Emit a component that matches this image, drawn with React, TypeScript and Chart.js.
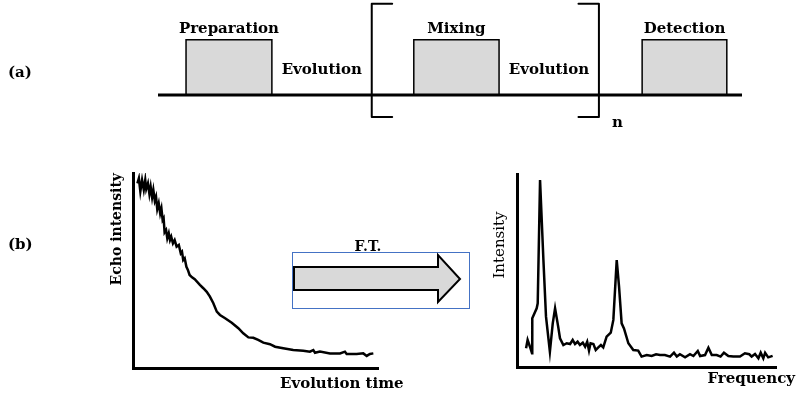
import React, { useEffect, useRef } from 'react';
import { Chart, registerables } from 'chart.js';
Chart.register(...registerables);

const FONT = '"DejaVu Serif", serif';

// ---- (a) pulse-sequence diagram ----
const stageNames = ['Preparation', 'Mixing', 'Detection'];
const stageStart = [4.8, 43.8, 82.9];
const stageEnd = [19.5, 58.4, 97.4];
const evolutionLabel = 'Evolution';
const repeatBracket = [36.6, 75.5];
const bracketSpan = [-0.4, 1.65];
const repeatLabel = 'n';
const timelineSpan = [0, 100];

// ---- (b) echo decay ----
const decayTime = [1.8,2.4,3.0,3.7,4.4,5.0,5.4,6.1,6.7,7.2,7.8,8.3,8.9,9.4,9.9,10.5,11.1,11.6,12.1,12.5,12.9,13.5,14.0,14.6,15.1,15.6,16.3,17.0,17.8,18.7,19.5,20.0,20.5,21.1,21.8,22.4,23.1,24.1,25.2,27.3,28.7,30.1,31.4,32.8,34.2,35.5,37.6,40.3,43.0,45.0,47.1,49.1,51.1,53.2,55.9,58.0,61.3,65.4,69.5,72.2,73.6,74.3,76.3,80.4,84.5,86.5,87.2,91.3,94.0,95.4,96.7,98.1];
const decayIntensity = [94.7,97.3,90.6,96.4,91.4,96.4,91.8,94.7,89.2,93.0,87.5,91.3,85.8,87.8,81.5,84.5,79.3,81.9,75.9,76.8,69.6,70.8,66.5,69.1,65.6,67.3,63.9,65.6,62.2,63.1,58.8,59.6,55.4,56.3,51.9,50.3,47.7,46.5,45.5,42.6,40.9,39.1,36.6,33.2,28.9,27.2,25.5,23.2,20.4,17.8,15.7,15.5,14.4,13.0,12.2,10.9,10.1,9.2,8.9,8.4,9.2,7.8,8.4,7.5,7.5,8.4,7.2,7.2,7.5,6.2,7.2,7.5];

// ---- (b) spectrum ----
const freq = [3.5,4.1,5.0,5.8,5.9,7.6,8.0,8.9,10.2,11.2,12.7,13.8,14.7,15.9,16.6,17.9,19.2,20.5,21.5,22.4,23.4,24.3,25.4,26.3,27.1,27.8,28.4,29.5,30.4,31.4,32.4,33.3,34.6,36.2,37.2,38.5,39.4,40.4,41.3,43.0,44.9,46.8,48.1,50.1,52.0,53.7,55.2,57.1,59.1,60.6,61.7,62.9,64.9,66.8,68.1,69.8,70.7,72.6,73.9,75.2,77.1,78.6,79.9,81.6,83.5,86.1,88.0,89.7,90.6,91.9,93.2,94.1,95.1,95.8,97.0,98.7];
const spectrum = [9.7,14.0,10.5,7.1,25.2,30.4,33.0,96.9,55.4,26.1,7.9,22.6,30.4,20.9,14.9,11.4,12.3,11.9,14.0,11.9,13.1,11.4,12.6,10.5,13.1,8.5,12.3,11.9,8.8,10.2,11.4,10.2,15.7,17.8,24.4,55.4,41.6,22.6,20.0,12.3,8.8,8.5,5.4,6.2,5.7,6.6,6.2,6.2,5.4,7.4,5.4,6.6,5.0,6.6,5.7,8.3,5.7,6.2,10.0,6.2,6.2,5.4,7.4,5.7,5.4,5.4,7.1,6.6,5.4,6.7,4.5,7.4,4.5,7.4,5.0,5.8];

const HOOK = 3.5;

function baseOptions(padding: any, xr: number[], yr: number[], axes: boolean): any {
  const axis = (min: number, max: number) => ({
    type: 'linear',
    min,
    max,
    display: axes,
    grid: { display: false, drawTicks: false },
    ticks: { display: false },
    border: { display: axes, width: 3, color: '#000' },
    title: { display: false },
  });
  return {
    responsive: false,
    animation: false,
    events: [],
    layout: { padding },
    plugins: { legend: { display: false }, tooltip: { enabled: false }, title: { display: false } },
    scales: { x: axis(xr[0], xr[1]), y: axis(yr[0], yr[1]) },
    elements: { point: { radius: 0 } },
  };
}

function useChart(ref: React.RefObject<HTMLCanvasElement>, make: (c: HTMLCanvasElement) => Chart) {
  useEffect(() => {
    if (!ref.current) return;
    const ch = make(ref.current);
    return () => ch.destroy();
  }, []);
}

const topPlugin = {
  id: 'topLabels',
  afterDatasetsDraw(chart: any) {
    const { ctx, scales: { x, y } } = chart;
    ctx.save();
    ctx.fillStyle = '#000';
    ctx.font = `bold 15px ${FONT}`;
    ctx.textBaseline = 'alphabetic';
    ctx.textAlign = 'center';
    const boxTop = y.getPixelForValue(1);
    const base = y.getPixelForValue(0);
    stageNames.forEach((n, i) => {
      ctx.fillText(n, x.getPixelForValue((stageStart[i] + stageEnd[i]) / 2), boxTop - 7);
    });
    const gaps = [[stageEnd[0], repeatBracket[0]], [stageEnd[1], repeatBracket[1]]];
    gaps.forEach(([a, b]) => ctx.fillText(evolutionLabel, x.getPixelForValue((a + b) / 2), base - 21));
    ctx.textAlign = 'left';
    ctx.fillText('(a)', 8, base - 18);
    ctx.fillText(repeatLabel, x.getPixelForValue(repeatBracket[1]) + 13, y.getPixelForValue(bracketSpan[0]) + 10);
    ctx.restore();
  },
};

const decayPlugin = {
  id: 'decayLabels',
  afterDraw(chart: any) {
    const { ctx, chartArea } = chart;
    ctx.save();
    ctx.fillStyle = '#000';
    ctx.textBaseline = 'alphabetic';
    ctx.font = `bold 15px ${FONT}`;
    ctx.textAlign = 'left';
    ctx.fillText('(b)', 8, 109);
    ctx.fillText('Evolution time', chartArea.left + 147, chartArea.bottom + 20);
    ctx.save();
    ctx.translate(chartArea.left - 12, chartArea.top);
    ctx.rotate(-Math.PI / 2);
    ctx.font = `bold 14px ${FONT}`;
    ctx.textAlign = 'right';
    ctx.fillText('Echo intensity', 0, 0);
    ctx.restore();
    // F.T. box with arrow
    ctx.strokeStyle = '#4472c4';
    ctx.lineWidth = 1;
    ctx.strokeRect(292.5, 112.5, 177, 56);
    ctx.beginPath();
    ctx.moveTo(294, 127);
    ctx.lineTo(438, 127);
    ctx.lineTo(438, 115);
    ctx.lineTo(460, 139);
    ctx.lineTo(438, 162);
    ctx.lineTo(438, 150);
    ctx.lineTo(294, 150);
    ctx.closePath();
    ctx.fillStyle = '#d9d9d9';
    ctx.fill();
    ctx.strokeStyle = '#000';
    ctx.lineWidth = 2;
    ctx.lineJoin = 'miter';
    ctx.stroke();
    ctx.fillStyle = '#000';
    ctx.font = `bold 14px ${FONT}`;
    ctx.textAlign = 'center';
    ctx.fillText('F.T.', 368, 111);
    ctx.restore();
  },
};

const specPlugin = {
  id: 'specLabels',
  afterDraw(chart: any) {
    const { ctx, chartArea } = chart;
    ctx.save();
    ctx.fillStyle = '#000';
    ctx.textBaseline = 'alphabetic';
    ctx.font = `bold 15px ${FONT}`;
    ctx.textAlign = 'right';
    ctx.fillText('Frequency', chartArea.right + 19, chartArea.bottom + 16);
    ctx.save();
    ctx.translate(chartArea.left - 13, chartArea.top + 71);
    ctx.rotate(-Math.PI / 2);
    ctx.font = `15px ${FONT}`;
    ctx.textAlign = 'center';
    ctx.fillText('Intensity', 0, 0);
    ctx.restore();
    ctx.restore();
  },
};

export default function App() {
  const topRef = useRef<HTMLCanvasElement>(null);
  const decayRef = useRef<HTMLCanvasElement>(null);
  const specRef = useRef<HTMLCanvasElement>(null);

  useChart(topRef, (c) => {
    const boxes = stageNames.map((n, i) => ({
      label: n,
      data: [
        { x: stageStart[i], y: 0 },
        { x: stageStart[i], y: 1 },
        { x: stageEnd[i], y: 1 },
        { x: stageEnd[i], y: 0 },
      ],
      borderColor: '#000',
      borderWidth: 1.5,
      backgroundColor: '#d9d9d9',
      fill: 'origin',
      order: 2,
      clip: false,
    }));
    const brackets = repeatBracket.map((bx, i) => {
      const hook = i === 0 ? bx + HOOK : bx - HOOK;
      return {
        label: 'bracket' + i,
        data: [
          { x: hook, y: bracketSpan[1] },
          { x: bx, y: bracketSpan[1] },
          { x: bx, y: bracketSpan[0] },
          { x: hook, y: bracketSpan[0] },
        ],
        borderColor: '#000',
        borderWidth: 2,
        borderJoinStyle: 'round',
        borderCapStyle: 'round',
        fill: false,
        order: 1,
        clip: false,
      };
    });
    const baseline = {
      label: 'timeline',
      data: [{ x: timelineSpan[0], y: 0 }, { x: timelineSpan[1], y: 0 }],
      borderColor: '#000',
      borderWidth: 3,
      fill: false,
      order: 0,
      clip: false,
    };
    return new Chart(c, {
      type: 'line',
      data: { datasets: [baseline, ...brackets, ...boxes] as any },
      options: baseOptions({ left: 158, right: 54, top: 0, bottom: 7 }, [0, 100], [-0.6, 1.72], false),
      plugins: [topPlugin],
    });
  });

  useChart(decayRef, (c) =>
    new Chart(c, {
      type: 'line',
      data: {
        datasets: [{
          label: 'Echo intensity',
          data: decayTime.map((t, i) => ({ x: t, y: decayIntensity[i] })),
          borderColor: '#000',
          borderWidth: 2.5,
          fill: false,
        }] as any,
      },
      options: baseOptions({ left: 133, right: 102, top: 33, bottom: 33 }, [0, 100], [0, 100], true),
      plugins: [decayPlugin],
    })
  );

  useChart(specRef, (c) =>
    new Chart(c, {
      type: 'line',
      data: {
        datasets: [{
          label: 'Intensity',
          data: freq.map((f, i) => ({ x: f, y: spectrum[i] })),
          borderColor: '#000',
          borderWidth: 2.5,
          fill: false,
        }] as any,
      },
      options: baseOptions({ left: 47, right: 20, top: 34, bottom: 34 }, [0, 100], [0, 100], true),
      plugins: [specPlugin],
    })
  );

  const abs = (l: number, t: number, w: number, h: number): React.CSSProperties => ({
    position: 'absolute', left: l, top: t, width: w, height: h,
  });

  return (
    <div style={{ position: 'absolute', left: 0, top: 0, width: 796, height: 401, background: '#fff', overflow: 'hidden' }}>
      <canvas ref={topRef} width={796} height={135} style={abs(0, 0, 796, 135)} />
      <canvas ref={decayRef} width={480} height={261} style={abs(0, 140, 480, 261)} />
      <canvas ref={specRef} width={326} height={261} style={abs(470, 140, 326, 261)} />
    </div>
  );
}
